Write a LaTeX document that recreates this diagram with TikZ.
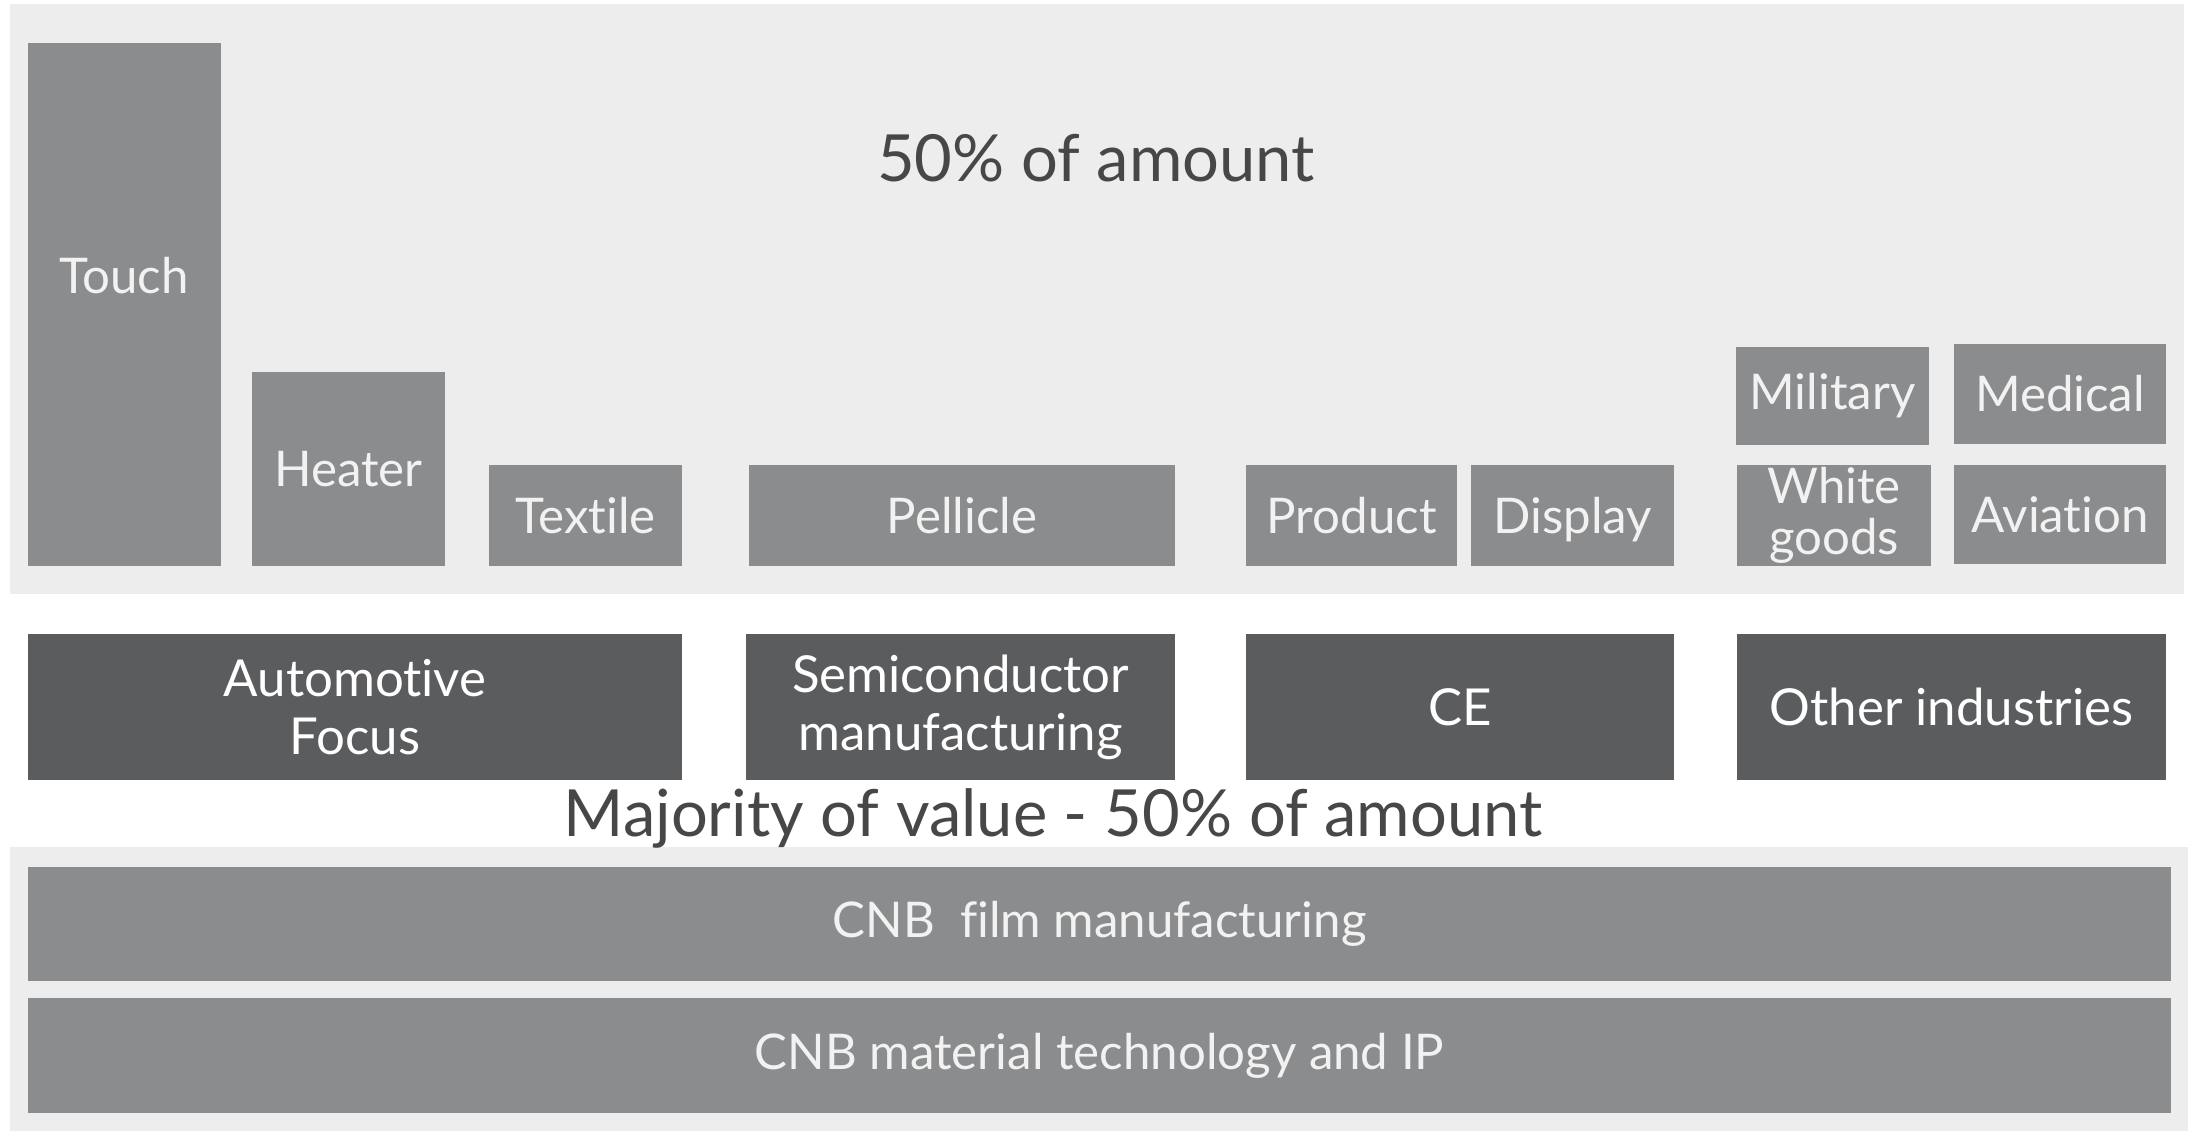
\documentclass[tikz,border=0pt]{standalone}
\usepackage{fontspec}
\setmainfont{Lato}[Ligatures=NoCommon]
\usetikzlibrary{fit}

\definecolor{panelgrey}{HTML}{EDEDED}
\definecolor{midgrey}{HTML}{8B8C8E}
\definecolor{darkgrey}{HTML}{5B5C5E}
\definecolor{labelgrey}{HTML}{F2F2F2}
\definecolor{headgrey}{HTML}{474747}

\begin{document}
\begin{tikzpicture}[x=0.1mm, y=-0.1mm,
            panel/.style={fill=panelgrey, inner sep=0pt},
            midbox/.style={fill=midgrey, inner sep=0pt},
            darkbox/.style={fill=darkgrey, inner sep=0pt},
            midtext/.style={text=labelgrey, align=center, font=\fontsize{14}{15}\selectfont},
            darktext/.style={text=white, align=center, font=\fontsize{14.5}{16.5}\selectfont},
            headline/.style={text=headgrey, font=\fontsize{18.5}{20}\selectfont}
        ]

            \useasboundingbox[fill=white] (0,0) rectangle (2195,1131);

            % light panels
            \node[panel, fit={(10,4) (2184,594)}] (top) {};
            \node[panel, fit={(10,847) (2188,1131)}] (base) {};
            \node[headline] (amount) at (1096,158) {50\% of amount};

            % applications
            \node[midbox, fit={(28,43) (221,566)}] (touch) {};
            \node[midtext] (touchlabel) at (124,276) {Touch};
            \node[midbox, fit={(252,372) (445,566)}, label={[midtext]center:Heater}] (heater) {};
            \node[midbox, fit={(489,465) (682,566)}, label={[midtext]center:Textile}] (textile) {};
            \node[midbox, fit={(749,465) (1175,566)}, label={[midtext]center:Pellicle}] (pellicle) {};
            \node[midbox, fit={(1246,465) (1457,566)}, label={[midtext]center:Product}] (product) {};
            \node[midbox, fit={(1471,465) (1674,566)}, label={[midtext, yshift=-0.45mm]center:Display}] (display) {};
            \node[midbox, fit={(1736,347) (1929,445)}, label={[midtext]center:Military}] (military) {};
            \node[midbox, fit={(1954,344) (2166,444)}, label={[midtext]center:Medical}] (medical) {};
            \node[midbox, fit={(1737,465) (1931,566)},
                label={[midtext, font=\fontsize{14}{14.5}\selectfont]center:White\\goods}] (white) {};
            \node[midbox, fit={(1954,465) (2166,564)}, label={[midtext]center:Aviation}] (aviation) {};

            % industries
            \node[darkbox, fit={(28,634) (682,780)}, label={[darktext]center:Automotive\\Focus}] (auto) {};
            \node[darkbox, fit={(746,634) (1175,780)}, label={[darktext]center:Semiconductor\\manufacturing}] (semi) {};
            \node[darkbox, fit={(1246,634) (1674,780)}, label={[darktext]center:CE}] (ce) {};
            \node[darkbox, fit={(1737,634) (2166,780)}, label={[darktext]center:Other industries}] (other) {};

            \node[headline] (value) at (1053,818) {Majority of value - 50\% of amount};

            % base layers
            \node[midbox, fit={(28,867) (2171,981)}, label={[midtext]center:CNB\ \ film manufacturing}] (film) {};
            \node[midbox, fit={(28,998) (2171,1113)}, label={[midtext]center:CNB material technology and IP}] (material) {};

            \node[anchor=north west, text=black!25, font=\small] (conf) at (2078,1125) {Confidential};

        \end{tikzpicture}
\end{document}
